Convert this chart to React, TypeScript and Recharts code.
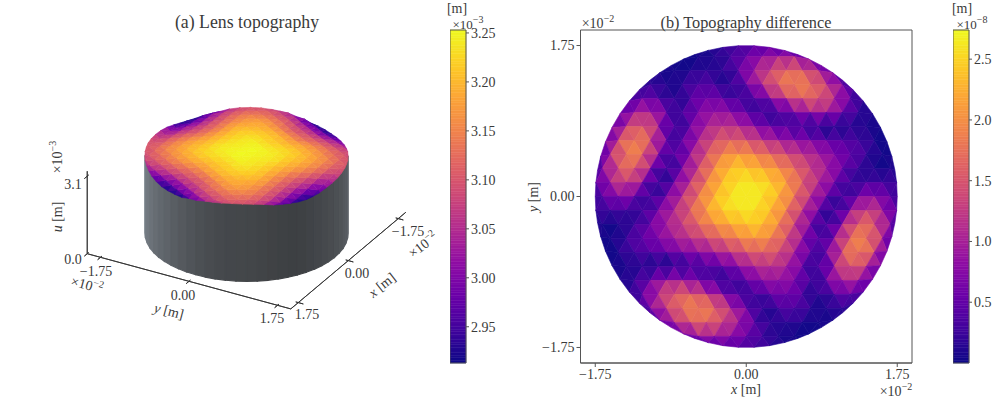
import React from "react";
import { ScatterChart, Scatter, XAxis, YAxis, ReferenceArea } from "recharts";

// ---- values ----
// panel (b): difference at the mesh nodes, in 1e-9 m, rows from y = +top to y = -top
const diffRows = [
  [1, 1, 2, 3, 4, 4, 4, 3],
  [1, 0, 0, 1, 3, 5, 8, 9, 9, 6, 3],
  [1, 1, 0, 1, 2, 1, 5, 10, 14, 17, 15, 11, 5, 2],
  [2, 2, 1, 2, 4, 3, 0, 6, 12, 17, 20, 18, 13, 7, 2],
  [3, 5, 4, 0, 4, 6, 5, 2, 2, 8, 13, 16, 16, 12, 5, 1],
  [4, 10, 11, 6, 2, 7, 9, 8, 5, 1, 2, 6, 9, 10, 6, 2, 1],
  [4, 12, 16, 10, 0, 6, 10, 12, 11, 8, 5, 3, 2, 0, 0, 1, 1, 0],
  [4, 14, 20, 15, 5, 4, 10, 15, 16, 15, 12, 10, 8, 7, 5, 4, 3, 1, 0],
  [3, 11, 19, 17, 8, 2, 9, 15, 19, 21, 19, 17, 14, 12, 10, 7, 5, 3, 0, 1],
  [2, 7, 15, 17, 9, 0, 7, 13, 20, 24, 24, 22, 20, 17, 13, 10, 6, 2, 0, 1, 1],
  [4, 10, 14, 8, 0, 6, 12, 19, 23, 26, 26, 25, 21, 16, 11, 7, 1, 3, 3, 2],
  [2, 4, 8, 6, 1, 6, 12, 18, 23, 26, 27, 26, 23, 18, 12, 6, 1, 6, 8, 4, 2],
  [2, 3, 3, 1, 7, 11, 16, 21, 25, 26, 26, 23, 19, 12, 6, 0, 8, 14, 10, 4],
  [1, 1, 0, 2, 6, 10, 13, 17, 20, 22, 24, 24, 20, 13, 7, 0, 9, 17, 15, 7, 2],
  [1, 0, 3, 5, 7, 10, 12, 14, 17, 19, 21, 19, 15, 9, 2, 8, 17, 19, 11, 3],
  [0, 1, 3, 4, 5, 7, 8, 10, 12, 15, 16, 15, 10, 4, 5, 15, 20, 14, 4],
  [0, 1, 1, 0, 0, 2, 3, 5, 8, 11, 12, 10, 6, 0, 10, 16, 12, 4],
  [1, 2, 6, 10, 9, 6, 2, 1, 5, 8, 9, 7, 2, 6, 11, 10, 4],
  [1, 5, 12, 16, 16, 13, 8, 2, 2, 5, 6, 4, 0, 4, 5, 3],
  [2, 7, 13, 18, 20, 17, 12, 6, 0, 3, 4, 2, 1, 2, 2],
  [2, 5, 11, 15, 17, 14, 10, 5, 1, 2, 1, 0, 1, 1],
  [3, 6, 9, 9, 8, 5, 3, 1, 0, 0, 1],
  [3, 4, 4, 4, 3, 2, 1, 1],
];

// panel (a): lens height at the same nodes, in 1e-5 m above 2.91e-3 m
const lensRows = [
  [19, 19, 18, 16, 14, 11, 6, 2],
  [17, 18, 19, 18, 16, 13, 10, 6, 2, 0, 0],
  [13, 16, 19, 20, 21, 20, 19, 16, 13, 11, 7, 5, 3, 5],
  [10, 15, 19, 21, 24, 24, 23, 21, 19, 16, 14, 12, 11, 10, 8],
  [6, 13, 18, 22, 24, 26, 26, 25, 23, 20, 19, 18, 17, 16, 15, 14],
  [3, 11, 17, 21, 25, 27, 28, 28, 27, 25, 23, 21, 21, 20, 20, 18, 17],
  [0, 8, 15, 20, 24, 27, 29, 30, 29, 28, 27, 26, 25, 24, 23, 22, 20, 18],
  [0, 6, 13, 19, 22, 27, 29, 31, 31, 31, 30, 29, 28, 28, 26, 25, 23, 20, 18],
  [0, 6, 13, 18, 21, 25, 28, 31, 32, 33, 32, 31, 31, 30, 28, 27, 25, 22, 20, 16],
  [0, 5, 12, 17, 20, 25, 28, 30, 32, 33, 33, 33, 32, 31, 30, 28, 27, 24, 20, 17, 14],
  [6, 12, 17, 20, 24, 28, 30, 31, 33, 34, 33, 33, 33, 31, 29, 27, 24, 21, 17, 13],
  [7, 13, 18, 21, 24, 28, 30, 31, 33, 34, 34, 34, 33, 31, 30, 28, 24, 21, 18, 13, 7],
  [13, 17, 21, 24, 27, 29, 31, 33, 33, 33, 34, 33, 31, 30, 28, 24, 20, 17, 12, 6],
  [14, 17, 20, 24, 27, 28, 30, 31, 32, 33, 33, 33, 32, 30, 28, 25, 20, 17, 12, 5, 0],
  [16, 20, 22, 25, 27, 28, 30, 31, 31, 32, 33, 32, 31, 28, 25, 21, 18, 13, 6, 0],
  [18, 20, 23, 25, 26, 28, 28, 29, 30, 31, 31, 31, 29, 27, 22, 19, 13, 6, 0],
  [18, 20, 22, 23, 24, 25, 26, 27, 28, 29, 30, 29, 27, 24, 20, 15, 8, 0],
  [17, 18, 20, 20, 21, 21, 23, 25, 27, 28, 28, 27, 25, 21, 17, 11, 3],
  [14, 15, 16, 17, 18, 19, 20, 23, 25, 26, 26, 24, 22, 18, 13, 6],
  [8, 10, 11, 12, 14, 16, 19, 21, 23, 24, 24, 21, 19, 15, 10],
  [5, 3, 5, 7, 11, 13, 16, 19, 20, 21, 20, 19, 16, 13],
  [0, 0, 2, 6, 10, 13, 16, 18, 19, 18, 17],
  [2, 6, 11, 14, 16, 18, 19, 19],
];

// cylinder wall: strip edge angles (deg) and the grey of each strip, left to right
const wallAngles = [
  -60.5, -54.5, -48.5, -42.5, -36.5, -30.5, -24.5, -18.5, -12.5, -6.5, -0.5, 5.5, 11.5, 17.5, 23.5, 29.5,
  35.5, 41.5, 47.5, 53.5, 59.5, 65.5, 71.5, 77.5, 83.5, 89.5, 95.5, 101.5, 107.5, 113.5, 119.5,
];
const wallGreys = [
  "#7a828b", "#757d85", "#71787f", "#6c7279", "#676d73", "#62686e", "#5e6369", "#595e63", "#55595e", "#505459",
  "#4c5054", "#494c50", "#46494d", "#44474b", "#44474a", "#434649", "#414447", "#404245", "#3e4144", "#3d4043",
  "#3e4144", "#404347", "#43464a", "#46494d", "#494c50", "#4c5054", "#505458", "#54585d", "#585c62", "#5c6167",
];

const uTicks = [0, 3.1];
const lateralTicks = [-1.75, 0, 1.75];
const cbarLensTicks = [2.95, 3.0, 3.05, 3.1, 3.15, 3.2, 3.25];
const cbarDiffTicks = [0.5, 1.0, 1.5, 2.0, 2.5];
const plasmaStops = [
  "#0d0887", "#41049d", "#6a00a8", "#8f0da4", "#b12a90", "#cc4778", "#e16462", "#f1844b", "#fca636", "#fcce25", "#f0f921",
];

// ---- helpers ----
const RADIUS = 1.75;
const MESH_DX = 0.1854;
const MESH_DY = 0.1622;
const PX_PER_UNIT = 86.29;
const FONT = "'Liberation Serif', serif";
const INK = "#3a3a3a";

function plasma(t: number) {
  const c = Math.min(1, Math.max(0, t)) * (plasmaStops.length - 1);
  const i = Math.min(plasmaStops.length - 2, Math.floor(c));
  const mix = (s: number) => {
    const a = parseInt(plasmaStops[i].slice(s, s + 2), 16);
    const b = parseInt(plasmaStops[i + 1].slice(s, s + 2), 16);
    return Math.round(a + (b - a) * (c - i));
  };
  return `rgb(${mix(1)},${mix(3)},${mix(5)})`;
}

// every mesh triangle has one horizontal edge, so walk the edges of each row
function meshTriangles(rows: number[][]) {
  const top = (rows.length - 1) / 2;
  const nodes = rows.map((row, i) => {
    const m = new Map<number, { x: number; y: number; v: number }>();
    row.forEach((v, j) => {
      const hx = 2 * j - (row.length - 1);
      let x = (hx / 2) * MESH_DX;
      let y = (top - i) * MESH_DY;
      const r = Math.hypot(x, y);
      if (r > RADIUS * 1.09) return;
      if (r > RADIUS) {
        x *= RADIUS / r;
        y *= RADIUS / r;
      }
      m.set(hx, { x, y, v });
    });
    return m;
  });
  const out: { x: number; y: number; v: number }[][] = [];
  nodes.forEach((m, i) => {
    m.forEach((a, hx) => {
      const b = m.get(hx + 2);
      if (!b) return;
      [i - 1, i + 1].forEach((k) => {
        const c = nodes[k]?.get(hx + 1);
        if (c) out.push([a, b, c]);
      });
    });
  });
  return out;
}

const mean = (xs: number[]) => xs.reduce((s, v) => s + v, 0) / xs.length;

function facet(pts: number[][], fill: string, stroke = fill, strokeWidth = 0.6) {
  const px = mean(pts.map((p) => p[0]));
  const py = mean(pts.map((p) => p[1]));
  return { px, py, fill, stroke, strokeWidth, pts: pts.map((p) => [p[0] - px, p[1] - py]) };
}

function Facet({ cx, cy, payload }: any) {
  const points = payload.pts.map((p: number[]) => `${cx + p[0]},${cy + p[1]}`).join(" ");
  return <polygon points={points} fill={payload.fill} stroke={payload.stroke} strokeWidth={payload.strokeWidth} />;
}

// oblique view of the 3D axes; result is in the plane of the left chart
function project(x: number, y: number, u: number) {
  const a = x / RADIUS;
  const b = y / RADIUS;
  return [246.5 - 50 * a + 88.5 * b, 233 + 42 * a + 24 * b - 25 * u];
}

// ---- marks ----
const diffFacets = meshTriangles(diffRows).map((t) => {
  const pts = t.map((n) => [n.x * PX_PER_UNIT, -n.y * PX_PER_UNIT]);
  const f = facet(pts, plasma(mean(t.map((n) => n.v)) / 27.4));
  return { ...f, px: f.px / PX_PER_UNIT, py: -f.py / PX_PER_UNIT };
});

const lensFacets = meshTriangles(lensRows).map((t) =>
  facet(
    t.map((n) => project(n.x, n.y, 2.91 + n.v / 100)),
    plasma(mean(t.map((n) => n.v)) / 34),
  ),
);

const wallFacets = wallGreys.map((grey, i) => {
  const a = (wallAngles[i] * Math.PI) / 180;
  const b = (wallAngles[i + 1] * Math.PI) / 180;
  const p = (t: number, u: number) => project(RADIUS * Math.cos(t), RADIUS * Math.sin(t), u);
  return facet([p(a, 0), p(b, 0), p(b, 3.1), p(a, 3.1)], grey, grey, 1.2);
});

const EDGE = 1.15 * RADIUS;
const seg = (p: number[], q: number[]) => facet([p, q], "none", "#333", 0.9);
const axisSegments = [
  seg(project(EDGE, -EDGE, 0), project(EDGE, -EDGE, 3.3)),
  seg(project(EDGE, -EDGE, 0), project(EDGE, EDGE, 0)),
  seg(project(EDGE, EDGE, 0), project(-EDGE, EDGE, 0)),
  ...uTicks.map((u) => seg(project(EDGE - 0.05, -EDGE, u), project(EDGE + 0.1, -EDGE, u))),
  ...lateralTicks.map((t) => seg(project(EDGE - 0.05, t, 0), project(EDGE + 0.1, t, 0))),
  ...lateralTicks.map((t) => seg(project(t, EDGE - 0.05, 0), project(t, EDGE + 0.1, 0))),
];

function Power({ exp }: { exp: string }) {
  return (
    <>
      ×10
      <tspan fontSize={10} dy={-5}>
        {exp}
      </tspan>
    </>
  );
}
const It = ({ c }: { c: string }) => <tspan fontStyle="italic">{c}</tspan>;

// [x, y, rotation, size, content]
const annotations: [number, number, number, number, React.ReactNode][] = [
  [247, 22, 0, 17.8, "(a) Lens topography"],
  [746, 22, 0, 16.3, "(b) Topography difference"],
  [73, 184, 0, 14, "3.1"],
  [73, 259, 0, 14, "0.0"],
  [57, 217, -90, 14, <><It c="u" /> [m]</>],
  [57, 157, -90, 14, <Power exp="−3" />],
  [96, 271, 0, 14, "−1.75"],
  [183, 295, 0, 14, "0.00"],
  [272, 318, 0, 14, "1.75"],
  [169, 311, 15, 14, <><It c="y" /> [m]</>],
  [87, 285, 15, 14, <Power exp="−2" />],
  [408, 231, 0, 14, "−1.75"],
  [357, 273, 0, 14, "0.00"],
  [307, 314, 0, 14, "1.75"],
  [382, 285, -38, 14, <><It c="x" /> [m]</>],
  [423, 245, -38, 14, <Power exp="−2" />],
  [457, 8, 0, 14, "[m]"],
  [468, 24, 0, 13, <Power exp="−3" />],
  [962, 8, 0, 14, "[m]"],
  [972, 24, 0, 13, <Power exp="−8" />],
  [598, 23, 0, 14, <Power exp="−2" />],
  [896, 391, 0, 14, <Power exp="−2" />],
  [746, 389, 0, 14, <><It c="x" /> [m]</>],
  [533, 197, -90, 14, <><It c="y" /> [m]</>],
];

const fmtSigned = (v: number) => (v < 0 ? `−${Math.abs(v).toFixed(2)}` : v.toFixed(2));
const tickStyle = { fontFamily: FONT, fontSize: 14, fill: INK };
const NoMark = () => null;

function Colorbar({ left, domain, ticks, digits }: { left: number; domain: number[]; ticks: number[]; digits: number }) {
  const steps = 128;
  const bands = Array.from({ length: steps }, (_, i) => i);
  const span = domain[1] - domain[0];
  return (
    <div style={{ position: "absolute", left, top: 0 }}>
      <ScatterChart width={60} height={399} margin={{ top: 30, right: 0, bottom: 36, left: 0 }}>
        <XAxis type="number" dataKey="a" domain={[0, 1]} hide />
        <YAxis
          type="number"
          dataKey="b"
          orientation="right"
          width={44}
          domain={domain}
          ticks={ticks}
          interval={0}
          tickSize={3}
          tickLine={{ stroke: "#555" }}
          axisLine={false}
          allowDataOverflow
          tick={tickStyle}
          tickFormatter={(v: number) => v.toFixed(digits)}
        />
        <Scatter data={[{ a: 0.5, b: domain[0] }]} shape={NoMark} isAnimationActive={false} />
        {bands.map((i) => (
          <ReferenceArea
            key={i}
            x1={0}
            x2={1}
            y1={domain[0] + (span * i) / steps}
            y2={domain[0] + (span * (i + 1)) / steps}
            fill={plasma((i + 0.5) / steps)}
            fillOpacity={1}
            stroke={plasma((i + 0.5) / steps)}
            strokeWidth={0.5}
          />
        ))}
        <ReferenceArea x1={0} x2={1} y1={domain[0]} y2={domain[1]} fill="none" stroke="#555" strokeWidth={1} />
      </ScatterChart>
    </div>
  );
}

export default function App() {
  return (
    <div style={{ position: "absolute", left: 0, top: 0, width: 996, height: 399, overflow: "hidden", background: "#fff" }}>
      <div style={{ position: "absolute", left: 0, top: 0 }}>
        <ScatterChart width={440} height={399} margin={{ top: 0, right: 0, bottom: 0, left: 0 }}>
          <XAxis type="number" dataKey="px" domain={[0, 440]} hide />
          <YAxis type="number" dataKey="py" domain={[0, 399]} reversed hide />
          <Scatter data={axisSegments} shape={Facet} isAnimationActive={false} />
          <Scatter data={wallFacets} shape={Facet} isAnimationActive={false} />
          <Scatter data={lensFacets} shape={Facet} isAnimationActive={false} />
        </ScatterChart>
      </div>

      <Colorbar left={450} domain={[2.913, 3.253]} ticks={cbarLensTicks} digits={2} />

      <div style={{ position: "absolute", left: 520, top: 0 }}>
        <ScatterChart width={410} height={399} margin={{ top: 30, right: 18, bottom: 16, left: 10.5 }}>
          <XAxis
            type="number"
            dataKey="px"
            height={20}
            domain={[-1.921, 1.921]}
            ticks={lateralTicks}
            interval={0}
            tickSize={4}
            tick={tickStyle}
            stroke="#555"
            tickFormatter={fmtSigned}
          />
          <YAxis
            type="number"
            dataKey="py"
            width={50}
            domain={[-1.93, 1.93]}
            ticks={lateralTicks}
            interval={0}
            tickSize={4}
            tick={tickStyle}
            stroke="#555"
            tickFormatter={fmtSigned}
          />
          <Scatter data={diffFacets} shape={Facet} isAnimationActive={false} />
          <ReferenceArea x1={-1.921} x2={1.921} y1={-1.93} y2={1.93} fill="none" stroke="#555" strokeWidth={1} />
        </ScatterChart>
      </div>

      <Colorbar left={953} domain={[0, 2.74]} ticks={cbarDiffTicks} digits={1} />

      <svg width={996} height={399} style={{ position: "absolute", left: 0, top: 0, pointerEvents: "none" }}>
        {annotations.map(([x, y, rot, size, content], i) => (
          <text
            key={i}
            x={x}
            y={y}
            fontFamily={FONT}
            fontSize={size}
            fill={INK}
            textAnchor="middle"
            dominantBaseline="central"
            transform={rot ? `rotate(${rot} ${x} ${y})` : undefined}
          >
            {content}
          </text>
        ))}
      </svg>
    </div>
  );
}
